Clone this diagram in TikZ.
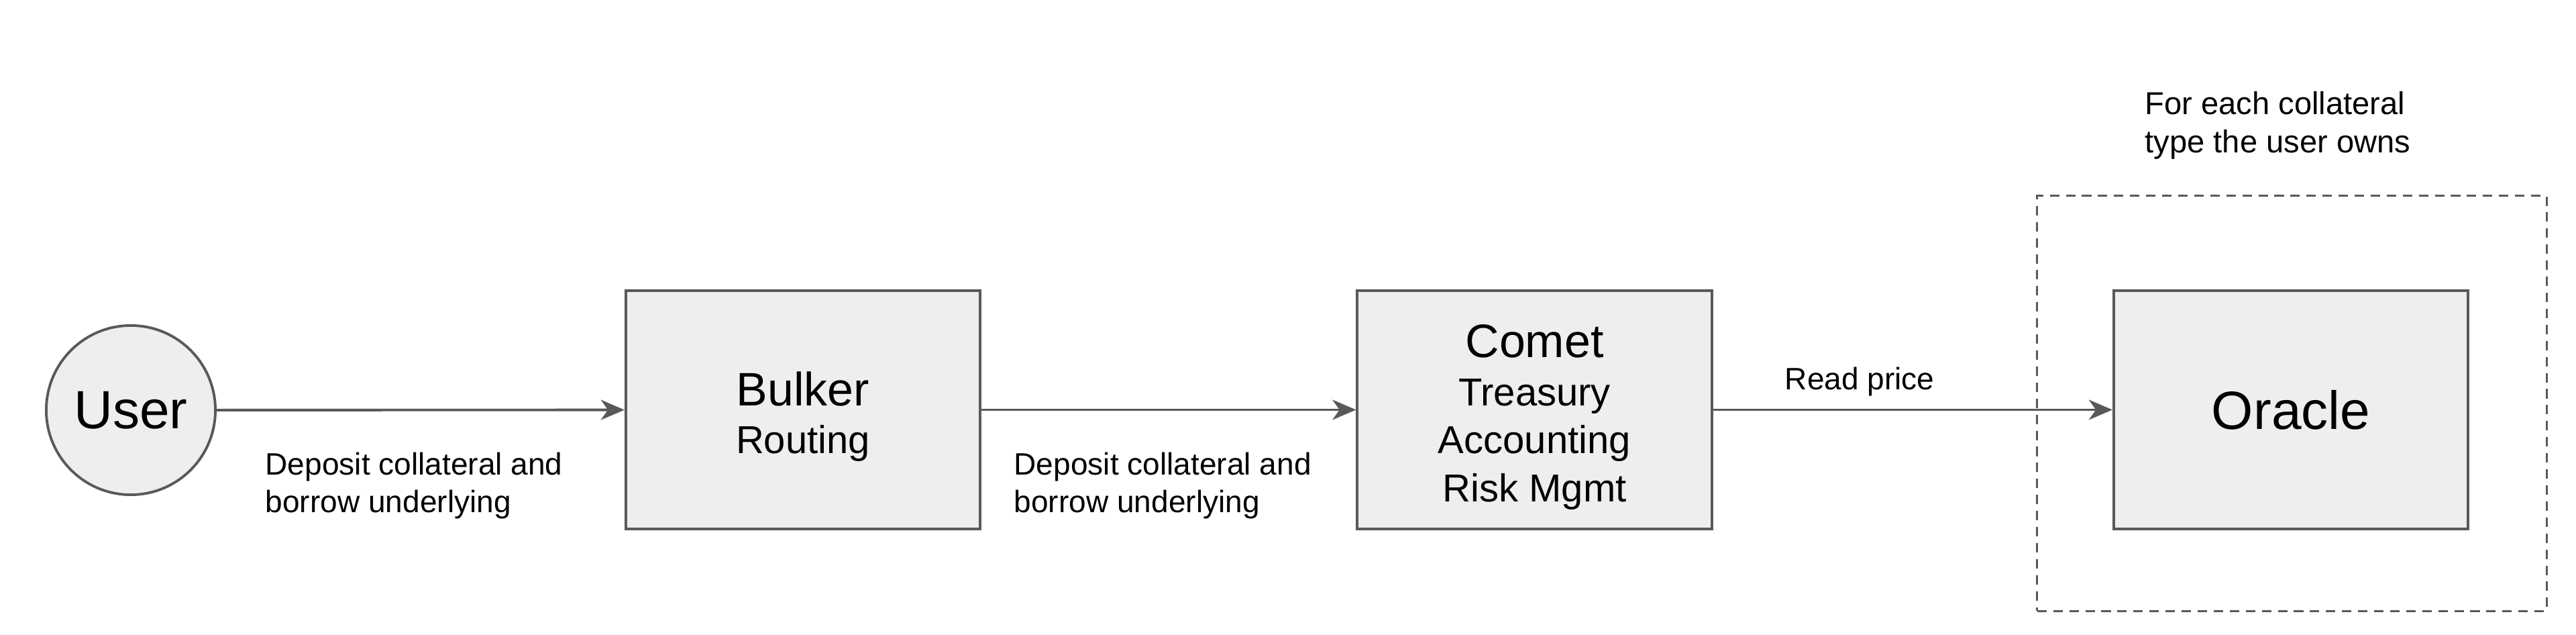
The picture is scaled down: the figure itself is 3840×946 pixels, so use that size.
\documentclass[tikz,border=0pt]{standalone}
\usepackage{fontspec}
\setmainfont{Liberation Sans}
\usetikzlibrary{arrows.meta}
\definecolor{boxfill}{HTML}{EEEEEE}
\definecolor{linegray}{HTML}{595959}
\begin{document}
\begin{tikzpicture}[x=0.01cm,y=-0.01cm,
  blockbox/.style={draw=linegray,fill=boxfill,line width=1.1pt,minimum width=5.28cm,minimum height=3.55cm,inner sep=0pt,align=center,font=\fontsize{16.5pt}{20.3pt}\selectfont},
  usercircle/.style={circle,draw=linegray,fill=boxfill,line width=1.1pt,minimum size=2.52cm,inner sep=0pt,font=\fontsize{22.8pt}{26pt}\selectfont},
  flow/.style={draw=linegray,line width=1.1pt,-{Stealth[length=10pt,width=8.5pt,inset=3pt]}},
  lbl/.style={inner sep=0pt,align=left,font=\fontsize{13.1pt}{15.9pt}\selectfont},
  groupbox/.style={draw=linegray,dashed,dash pattern=on 4pt off 2.8pt,line width=0.85pt,minimum width=7.59cm,minimum height=6.18cm,inner sep=0pt}
]
\useasboundingbox (0,0) rectangle (3840,946);
\node[usercircle] (user) at (195,611) {User};
\node[blockbox] (bulker) at (1197,610.5) {\rule{0pt}{0.71cm}{\fontsize{19.9pt}{20.3pt}\selectfont Bulker}\\Routing};
\node[blockbox] (comet) at (2287.5,610.5) {\rule{0pt}{0.71cm}{\fontsize{19.9pt}{20.3pt}\selectfont Comet}\\Treasury\\Accounting\\Risk Mgmt};
\node[groupbox] (group) at (3416.5,601) {};
\node[blockbox,font=\fontsize{22.8pt}{26pt}\selectfont] (oracle) at (3415,610.5) {Oracle};
\draw[flow] (user) -- (bulker);
\draw[flow] (bulker) -- (comet);
\draw[flow] (comet) -- (oracle);
\node[lbl,anchor=north west] (l1) at (395,673) {Deposit collateral and\\borrow underlying};
\node[lbl,anchor=north west] (l2) at (1511,673) {Deposit collateral and\\borrow underlying};
\node[lbl,anchor=base west] (l3) at (2660,580) {Read price};
\node[lbl,anchor=north west,font=\fontsize{13.4pt}{16.2pt}\selectfont] (l4) at (3197,136) {For each collateral\\type the user owns};
\end{tikzpicture}
\end{document}
